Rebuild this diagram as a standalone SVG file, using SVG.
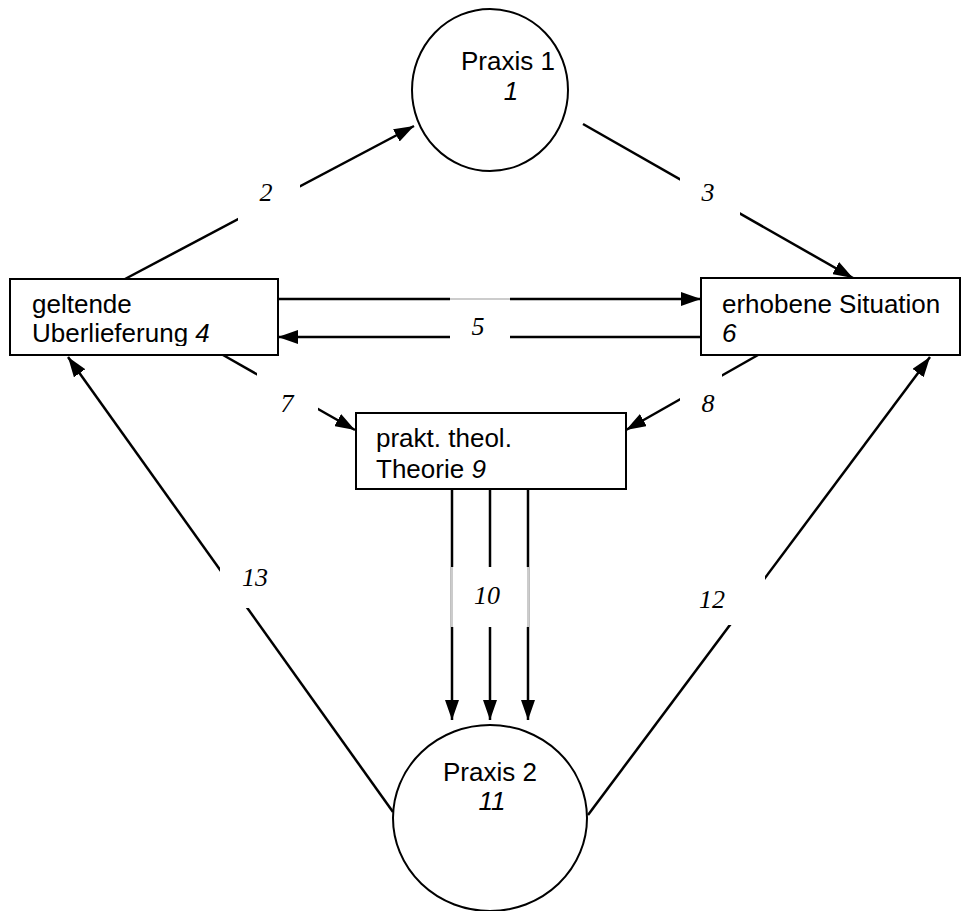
<svg xmlns="http://www.w3.org/2000/svg" width="961" height="911" viewBox="0 0 961 911">
<style>
.node{fill:#fff;stroke:#000;stroke-width:2}
.t{font-family:"Liberation Sans",Arial,sans-serif;font-size:26px;fill:#000}
.i{font-style:italic}
.c{stroke:#000;stroke-width:2.5;fill:none}
.lb{fill:#fff;stroke:none}
.lt{font-family:"Liberation Serif","Times New Roman",serif;font-style:italic;font-size:26px;fill:#000;text-anchor:middle}
.g{stroke:#999;stroke-width:1}
</style>
<defs>
<marker id="ah" viewBox="0 0 20 14" refX="20" refY="7" markerWidth="20" markerHeight="14" markerUnits="userSpaceOnUse" orient="auto">
<path d="M0,0 L20,7 L0,14 z" fill="#000"/>
</marker>
<clipPath id="clipL"><rect x="10" y="279" width="268" height="67"/></clipPath>
</defs>
<rect width="961" height="911" fill="#fff"/>
<g id="connectors">
<line class="c" x1="125" y1="279" x2="414" y2="126" marker-end="url(#ah)"/>
<line class="c" x1="583" y1="124" x2="853" y2="278" marker-end="url(#ah)"/>
<line class="c" x1="278" y1="299" x2="701" y2="299" marker-end="url(#ah)"/>
<line class="c" x1="701" y1="337" x2="278" y2="337" marker-end="url(#ah)"/>
<line class="c" x1="223" y1="355" x2="355" y2="430" marker-end="url(#ah)"/>
<line class="c" x1="758" y1="355" x2="626" y2="430" marker-end="url(#ah)"/>
<line class="c" x1="452" y1="489" x2="452" y2="720" marker-end="url(#ah)"/>
<line class="c" x1="490" y1="489" x2="490" y2="720" marker-end="url(#ah)"/>
<line class="c" x1="528" y1="489" x2="528" y2="720" marker-end="url(#ah)"/>
<line class="c" x1="588" y1="815" x2="930" y2="357" marker-end="url(#ah)"/>
<line class="c" x1="393" y1="812" x2="68" y2="357" marker-end="url(#ah)"/>
</g>
<g id="labels">
<g id="label-2"><rect class="lb" x="238" y="176" width="62" height="48"/><text class="lt" x="266" y="201">2</text></g>
<g id="label-3"><rect class="lb" x="680" y="160" width="60" height="55"/><text class="lt" x="708" y="201">3</text></g>
<g id="label-5"><rect class="lb" x="450" y="297" width="60" height="42"/><line class="g" x1="450" y1="299" x2="510" y2="299"/><text class="lt" x="478" y="335">5</text></g>
<g id="label-7"><rect class="lb" x="257" y="362" width="61" height="50"/><text class="lt" x="287" y="412">7</text></g>
<g id="label-8"><rect class="lb" x="680" y="362" width="42" height="50"/><text class="lt" x="708" y="412">8</text></g>
<g id="label-10"><rect class="lb" x="451" y="567" width="78" height="60"/><line class="g" x1="452" y1="567" x2="452" y2="627"/><line class="g" x1="528" y1="567" x2="528" y2="627"/><text class="lt" x="487" y="604">10</text></g>
<g id="label-12"><rect class="lb" x="690" y="565" width="75" height="60"/><text class="lt" x="712" y="608">12</text></g>
<g id="label-13"><rect class="lb" x="220" y="555" width="70" height="53"/><text class="lt" x="255" y="586">13</text></g>
</g>
<g id="praxis1">
<ellipse class="node" cx="490" cy="90" rx="78" ry="81"/>
<text class="t" x="508" y="70" text-anchor="middle">Praxis 1</text>
<text class="t i" x="511" y="100" text-anchor="middle">1</text>
</g>
<g id="ueberlieferung">
<rect class="node" x="10" y="279" width="268" height="76"/>
<g clip-path="url(#clipL)">
<text class="t" x="32" y="313">geltende</text>
<text class="t" x="32" y="342">Uberlieferung <tspan class="i">4</tspan></text>
</g>
</g>
<g id="situation">
<rect class="node" x="701" y="278" width="259" height="77"/>
<text class="t" x="722" y="313">erhobene Situation</text>
<text class="t i" x="722" y="342">6</text>
</g>
<g id="theorie">
<rect class="node" x="356" y="413" width="270" height="76"/>
<text class="t" x="376" y="447">prakt. theol.</text>
<text class="t" x="376" y="478">Theorie <tspan class="i">9</tspan></text>
</g>
<g id="praxis2">
<ellipse class="node" cx="490" cy="818" rx="97" ry="93"/>
<text class="t" x="490" y="781" text-anchor="middle">Praxis 2</text>
<text class="t i" x="492" y="810" text-anchor="middle">11</text>
</g>
</svg>
